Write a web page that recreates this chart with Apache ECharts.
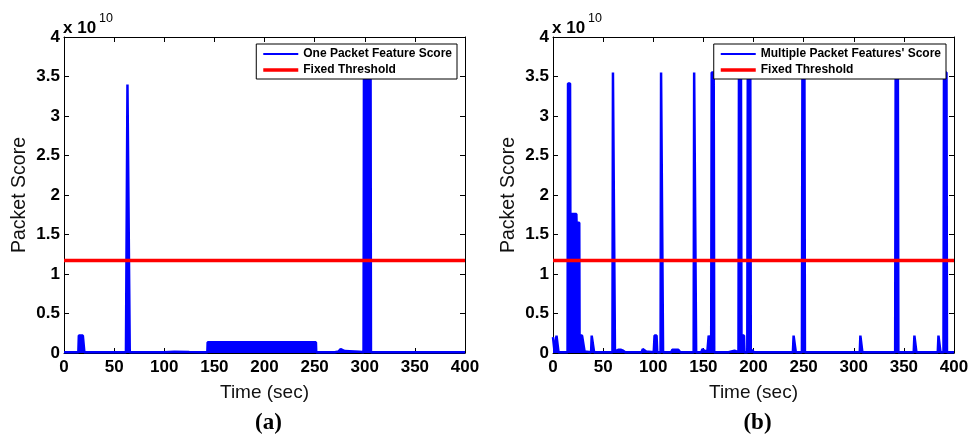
<!DOCTYPE html>
<html>
<head>
<meta charset="utf-8">
<script src="https://cdn.jsdelivr.net/npm/echarts@6/dist/echarts.min.js"></script>
<style>
html,body{margin:0;padding:0;background:#fff;}
#chart{width:973px;height:434px;}
</style>
</head>
<body>
<div id="chart"></div>
<script>
// ---- Data (scores in units of 1e10, time in seconds) ----
var xTicks = [0, 50, 100, 150, 200, 250, 300, 350, 400];
var yTicks = [0, 0.5, 1, 1.5, 2, 2.5, 3, 3.5, 4];
var panelLabels = ['(a)', '(b)'];
var seriesNames = ['One Packet Feature Score', "Multiple Packet Features' Score"];
var thresholdName = 'Fixed Threshold';
var thresholdValue = 1.17;

// (a) One packet feature score
var oneScore = [
  [0,0.01],[14.3,0.01],[14.8,0.22],[15.8,0.21],[16.8,0.22],[17.8,0.21],[18.8,0.22],[19.8,0.22],[20.3,0.01],
  [40,0.01],[61.8,0.01],[63.3,3.40],[64.3,3.40],[65.6,0.01],[100,0.01],[110,0.015],[125,0.012],[143,0.01],
  [143.3,0.135],[144.8,0.12],[146.3,0.135],[147.8,0.12],[149.3,0.135],[150.8,0.12],[152.3,0.135],[153.8,0.12],
  [155.3,0.135],[156.8,0.12],[158.3,0.135],[159.8,0.12],[161.3,0.135],[162.8,0.12],[164.3,0.135],[165.8,0.12],
  [167.3,0.135],[168.8,0.12],[170.3,0.135],[171.8,0.12],[173.3,0.135],[174.8,0.12],[176.3,0.135],[177.8,0.12],
  [179.3,0.135],[180.8,0.12],[182.3,0.135],[183.8,0.12],[185.3,0.135],[186.8,0.12],[188.3,0.135],[189.8,0.12],
  [191.3,0.135],[192.8,0.12],[194.3,0.135],[195.8,0.12],[197.3,0.135],[198.8,0.12],[200.3,0.135],[201.8,0.12],
  [203.3,0.135],[204.8,0.12],[206.3,0.135],[207.8,0.12],[209.3,0.135],[210.8,0.12],[212.3,0.135],[213.8,0.12],
  [215.3,0.135],[216.8,0.12],[218.3,0.135],[219.8,0.12],[221.3,0.135],[222.8,0.12],[224.3,0.135],[225.8,0.12],
  [227.3,0.135],[228.8,0.12],[230.3,0.135],[231.8,0.12],[233.3,0.135],[234.8,0.12],[236.3,0.135],[237.8,0.12],
  [239.3,0.135],[240.8,0.12],[242.3,0.135],[243.8,0.12],[245.3,0.135],[246.8,0.12],[248.3,0.135],[249.8,0.12],
  [251.3,0.135],[251.6,0.01],
  [270,0.01],[274,0.02],[276,0.05],[277,0.03],[280,0.025],[290,0.02],[295,0.015],
  [298.8,0.01],[299.2,3.55],[305.8,3.55],[306.2,0.01],[400,0.01]
];

// (b) Multiple packet features' score
var multiScore = [
  [0,0.2],[0.8,0.22],[1.5,0.02],[3,0.02],[3.5,0.22],[5,0.22],[5.5,0.01],
  [14.5,0.01],[15,3.41],[17,3.41],[17.3,1.76],[23.3,1.76],[23.5,1.65],[26.2,1.65],[26.5,0.22],[28,0.2],[29,0.22],
  [30.5,0.22],[31.5,0.02],[38,0.01],[38.6,0.22],[40.5,0.22],[41,0.01],
  [59.3,0.01],[59.8,3.55],[61.3,3.55],[61.8,0.02],[65,0.04],[68,0.04],[70,0.03],[72,0.01],
  [88.5,0.01],[89.5,0.05],[91,0.04],[93,0.02],[100.5,0.01],[101.3,0.22],[103.3,0.22],[104,0.01],
  [107.3,0.01],[107.8,3.55],[109.3,3.55],[109.8,0.01],[118,0.01],[119,0.04],[125,0.04],[127,0.01],
  [140.3,0.01],[140.8,3.55],[142.3,3.55],[142.8,0.01],[148,0.01],[149,0.05],[151,0.03],[154,0.02],
  [155.3,0.22],[157,0.22],[157.8,0.1],[158.3,3.55],[160.3,3.55],[160.8,0.01],
  [175,0.01],[176,0.03],[181,0.03],[182,0.01],[185,0.01],[185.5,3.55],[187.5,3.55],[188,0.22],[190.5,0.22],[191,0.01],
  [193.8,0.01],[194.3,3.55],[196.8,3.55],[197.3,0.01],[199,0.04],[200,0.01],
  [239.3,0.01],[240,0.22],[241.5,0.22],[242.2,0.01],[248.3,0.01],[248.8,3.55],[250.8,3.55],[251.3,0.01],
  [306,0.01],[306.6,0.22],[308,0.22],[308.6,0.01],[341.3,0.01],[341.8,3.55],[344,3.55],[344.5,0.01],
  [359.8,0.01],[360.5,0.22],[361.8,0.22],[362.5,0.01],[383.8,0.01],[384.5,0.22],[385.8,0.22],[386.5,0.01],
  [389.5,0.01],[390,3.55],[392.5,3.55],[393,0.01],[400,0.01]
];

// ---- Chart ----
var FONT = "'Liberation Sans', Arial, Helvetica, sans-serif";
var SERIF = "'Liberation Serif', 'Times New Roman', serif";
var grids = [
  {left: 64, top: 37, width: 401, height: 316},
  {left: 553, top: 37, width: 401, height: 316}
];

function xAxisPair(gi) {
  var base = {
    type: 'value', gridIndex: gi, min: xTicks[0], max: xTicks[xTicks.length-1],
    interval: xTicks[1]-xTicks[0],
    axisLine: {show: true, onZero: false, lineStyle: {color: '#000', width: 1}},
    axisTick: {show: true, inside: true, length: 5, lineStyle: {color: '#000'}},
    splitLine: {show: false}
  };
  var bottom = Object.assign({}, base, {
    position: 'bottom',
    axisLabel: {color: '#000', fontFamily: FONT, fontWeight: 'bold', fontSize: 17, margin: 6},
    name: 'Time (sec)', nameLocation: 'middle', nameGap: 30,
    nameTextStyle: {color: '#111', fontFamily: FONT, fontSize: 19}
  });
  var top = Object.assign({}, base, {position: 'top', axisLabel: {show: false}});
  return [bottom, top];
}
function yAxisPair(gi) {
  var base = {
    type: 'value', gridIndex: gi, min: yTicks[0], max: yTicks[yTicks.length-1],
    interval: yTicks[1]-yTicks[0],
    axisLine: {show: true, onZero: false, lineStyle: {color: '#000', width: 1}},
    axisTick: {show: true, inside: true, length: 5, lineStyle: {color: '#000'}},
    splitLine: {show: false}
  };
  var left = Object.assign({}, base, {
    position: 'left',
    axisLabel: {color: '#000', fontFamily: FONT, fontWeight: 'bold', fontSize: 17, margin: 4},
    name: 'Packet Score', nameLocation: 'middle', nameGap: 34,
    nameTextStyle: {color: '#111', fontFamily: FONT, fontSize: 19.5}
  });
  var right = Object.assign({}, base, {position: 'right', axisLabel: {show: false}});
  return [left, right];
}

var xAxes = xAxisPair(0).concat(xAxisPair(1));
var yAxes = yAxisPair(0).concat(yAxisPair(1));

function scoreSeries(name, data, gi) {
  return {
    type: 'line', name: name, xAxisIndex: gi*2, yAxisIndex: gi*2, data: data,
    symbol: 'none', showSymbol: false, z: 2,
    lineStyle: {color: '#0000ff', width: 2.5},
    itemStyle: {color: '#0000ff'},
    areaStyle: {color: '#0000ff', opacity: 1},
    animation: false
  };
}
function thresholdSeries(gi) {
  return {
    type: 'line', name: thresholdName, xAxisIndex: gi*2, yAxisIndex: gi*2,
    data: [[xTicks[0], thresholdValue], [xTicks[xTicks.length-1], thresholdValue]],
    symbol: 'none', showSymbol: false, z: 3,
    lineStyle: {color: '#ff0000', width: 3.5},
    itemStyle: {color: '#ff0000'},
    animation: false
  };
}

var ICON_BLUE = 'path://M0,0L0.01,0ZM0,12L0.01,12ZM0,5H35V7H0Z';
var ICON_RED = 'path://M0,0L0.01,0ZM0,12L0.01,12ZM0,4.25H35V7.75H0Z';

function legendFor(name, right) {
  return {
    data: [
      {name: name, icon: ICON_BLUE, itemStyle: {color: '#0000ff'}},
      {name: thresholdName, icon: ICON_RED, itemStyle: {color: '#ff0000'}}
    ],
    orient: 'vertical', right: right, top: 44,
    itemWidth: 35, itemHeight: 12, itemGap: 4, padding: [4, 5, 3, 7],
    borderColor: '#000', borderWidth: 1, backgroundColor: '#fff', borderRadius: 0,
    textStyle: {color: '#000', fontFamily: FONT, fontWeight: 'bold', fontSize: 12},
    selectedMode: false, z: 10
  };
}

var graphics = [];
[0, 1].forEach(function (gi) {
  var g = grids[gi];
  graphics.push({type: 'text', left: g.left - 1, top: 20, z: 20,
    style: {text: 'x 10', font: 'bold 17px ' + FONT, fill: '#000'}});
  graphics.push({type: 'text', left: g.left + 35, top: 12, z: 20,
    style: {text: '10', font: '12.5px ' + FONT, fill: '#000'}});
  graphics.push({type: 'text', x: g.left + g.width/2 + 4, y: 423, z: 20,
    style: {text: panelLabels[gi], font: 'bold 23px ' + SERIF, fill: '#000',
      textAlign: 'center', textVerticalAlign: 'middle'}});
});

var option = {
  backgroundColor: '#fff',
  animation: false,
  grid: grids,
  xAxis: xAxes,
  yAxis: yAxes,
  legend: [legendFor(seriesNames[0], 973 - 457), legendFor(seriesNames[1], 973 - 946)],
  series: [
    scoreSeries(seriesNames[0], oneScore, 0), thresholdSeries(0),
    scoreSeries(seriesNames[1], multiScore, 1), thresholdSeries(1)
  ],
  graphic: graphics
};
var chart = echarts.init(document.getElementById('chart'), null, {renderer: 'canvas'});
chart.setOption(option);
</script>
</body>
</html>
